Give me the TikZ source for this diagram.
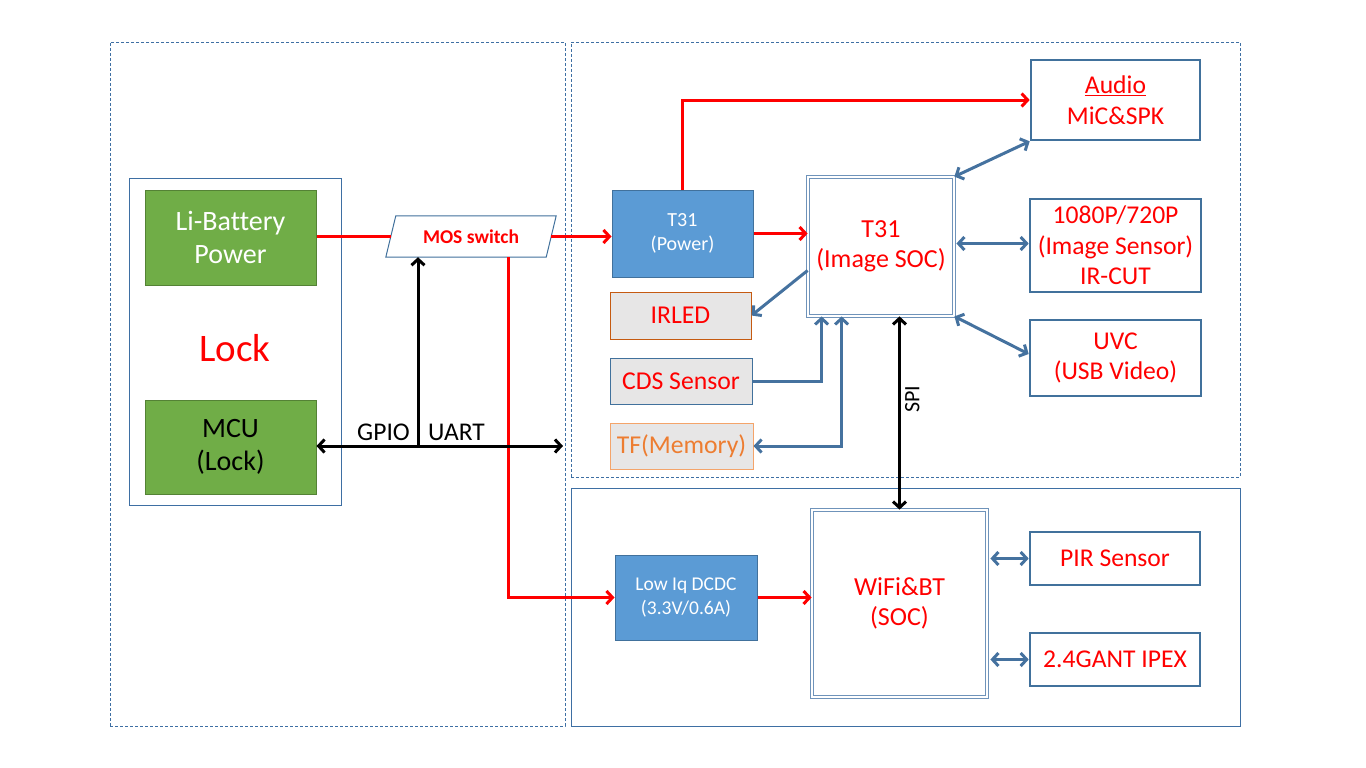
\documentclass[tikz,border=0pt]{standalone}
\usepackage{fontspec}
\setmainfont[Ligatures=NoCommon]{Carlito}
\usetikzlibrary{arrows.meta,calc}
\definecolor{dashblue}{HTML}{3E6FA3}
\definecolor{arrblue}{HTML}{45729F}
\definecolor{lgreen}{HTML}{70AD47}
\definecolor{dgreen}{HTML}{548235}
\definecolor{boxblue}{HTML}{5B9BD5}
\definecolor{boxedge}{HTML}{41719C}
\definecolor{grayfill}{HTML}{E7E6E6}
\definecolor{brownedge}{HTML}{C55A11}
\definecolor{orangeedge}{HTML}{F4A46A}
\definecolor{orangetext}{HTML}{ED7D31}
\definecolor{socedge}{HTML}{6F93BA}
\definecolor{pured}{HTML}{FF0000}
\begin{document}
\begin{tikzpicture}[x=1pt,y=-1pt,
  >={Straight Barb[length=6pt,width=13pt]},
  every node/.style={inner sep=0pt, align=center},
  dashbox/.style={draw=dashblue, line width=0.9pt, dash pattern=on 3pt off 2pt},
  thinbox/.style={draw=dashblue, line width=1pt},
  greenbox/.style={fill=lgreen, draw=dgreen, line width=1pt, font=\fontsize{28}{33}\selectfont},
  powbox/.style={fill=boxblue, draw=boxedge, line width=1pt, text=white},
  graybox/.style={fill=grayfill, line width=1pt, font=\fontsize{25.7}{30}\selectfont},
  periph/.style={draw=boxedge, line width=2.6pt, text=pured, font=\fontsize{25.6}{30.5}\selectfont},
  socbox/.style={draw=socedge, double=white, double distance=2pt, line width=0.8pt, text=pured, font=\fontsize{26}{30.5}\selectfont},
  redline/.style={draw=pured, line width=3pt},
  blueline/.style={draw=arrblue, line width=3pt},
  blackline/.style={draw=black, line width=3pt},
  lbl/.style={font=\fontsize{25.5}{28}\selectfont}
]
\useasboundingbox (0,0) rectangle (1366,768);

% zones
\node[dashbox, minimum width=455, minimum height=684] (lockzone) at (337.5,384) {};
\node[dashbox, minimum width=669, minimum height=435] (camzone) at (905.5,259.5) {};
\node[thinbox, minimum width=669, minimum height=238] (wifizone) at (905.5,607) {};
\node[thinbox, minimum width=212, minimum height=327] (lockbox) at (235,341.5) {};

% lock side
\node[greenbox, text=white, minimum width=171, minimum height=95] (bat) at (230.5,237.5) {Li-Battery\\Power};
\node[greenbox, text=black, minimum width=171, minimum height=94] (mcu) at (230.5,447) {MCU\\(Lock)};
\node[text=pured, font=\fontsize{39}{42}\selectfont] (locklbl) at (235,348) {Lock};

% MOS switch
\node[minimum width=160, minimum height=41] (mos) at (471,236.5) {};
\draw[draw=boxedge, line width=1pt, fill=white]
  ($(mos.north west)+(5,0)$) -- ($(mos.north east)+(5,0)$) -- ($(mos.south east)+(-5,0)$) -- ($(mos.south west)+(-5,0)$) -- cycle;
\node[text=pured, font=\bfseries\fontsize{19.5}{22}\selectfont] (mostext) at (mos.center) {MOS switch};

% camera side
\node[powbox, minimum width=141, minimum height=87, font=\fontsize{20}{24}\selectfont] (tp) at (682.5,233.5) {T31\\(Power)};
\node[socbox, minimum width=146, minimum height=139] (soc) at (881,246.5) {\rule{0pt}{6pt}T31\\(Image SOC)};
\node[graybox, draw=brownedge, text=pured, minimum width=141, minimum height=47] (irled) at (680.5,315.5) {IRLED};
\node[graybox, draw=boxedge, text=pured, minimum width=142, minimum height=46] (cds) at (681,381) {CDS Sensor};
\node[graybox, draw=orangeedge, text=orangetext, minimum width=143, minimum height=46] (tf) at (681.5,446) {TF(Memory)};

\node[periph, minimum width=169, minimum height=80] (audio) at (1115.5,100) {\underline{Audio}\\MiC\&SPK};
\node[periph, minimum width=171, minimum height=93] (img) at (1115.5,245.5) {1080P/720P\\(Image Sensor)\\IR-CUT};
\node[periph, minimum width=171, minimum height=76] (uvc) at (1115.5,358) {UVC\\(USB Video)};

% wifi side
\node[powbox, minimum width=142, minimum height=85, font=\fontsize{19.5}{24}\selectfont] (dcdc) at (686,597.5) {Low Iq DCDC\\(3.3V/0.6A)};
\node[socbox, minimum width=175, minimum height=187] (wifi) at (899.5,603.5) {WiFi\&BT\\(SOC)};
\node[periph, minimum width=170, minimum height=53] (pir) at (1115,558.5) {PIR Sensor};
\node[periph, minimum width=170, minimum height=53] (ipex) at (1115,659.5) {2.4GANT IPEX};

% red power lines
\draw[redline] (bat.east |- mos.west) -- (mos.west);
\draw[redline, ->] (mos.east) -- (mos.east -| tp.west);
\draw[redline, ->] (tp.north) |- (audio.west);
\draw[redline, ->] (tp.east) -- (tp.east -| soc.west);
\draw[redline, ->] ($(mos.south)+(37,0)$) |- (dcdc.west);
\draw[redline, ->] (dcdc.east) -- (dcdc.east -| wifi.west);

% black signal lines
\coordinate (uartend) at (563,446);
\coordinate (tee) at ($(mos.south)+(-53,0)$);
\draw[blackline, <->] (mcu.east |- uartend) -- (uartend);
\draw[blackline, ->] (tee |- uartend) -- (tee);
\node[lbl, anchor=base east] (gpio) at ($(tee |- uartend)+(-8,-6)$) {GPIO};
\node[lbl, anchor=base west] (uart) at ($(tee |- uartend)+(10,-6)$) {UART};
\draw[blackline, <->] (soc.south -| wifi.north) -- (wifi.north)
  node[pos=0.43, rotate=90, anchor=north, yshift=-4pt, font=\fontsize{22}{26}\selectfont] (spi) {SPI};

% blue signal lines
\draw[blueline, ->] ($(soc.west)+(0,24)$) -- (irled.east);
\draw[blueline, ->] (cds.east) -| ($(soc.south west)+(14,0)$);
\draw[blueline, <->] ($(soc.south west)+(34,0)$) |- (tf.east);
\draw[blueline, <->] (soc.north east) -- (audio.south west);
\draw[blueline, <->] ($(soc.east)+(2,-3)$) -- ($(soc.east -| img.west)+(0,-3)$);
\draw[blueline, <->] (soc.south east) -- ($(uvc.west)+(0,-4)$);
\draw[blueline, <->] ($(wifi.east |- pir.west)+(3,0)$) -- (pir.west);
\draw[blueline, <->] ($(wifi.east |- ipex.west)+(3,0)$) -- (ipex.west);
\end{tikzpicture}
\end{document}
